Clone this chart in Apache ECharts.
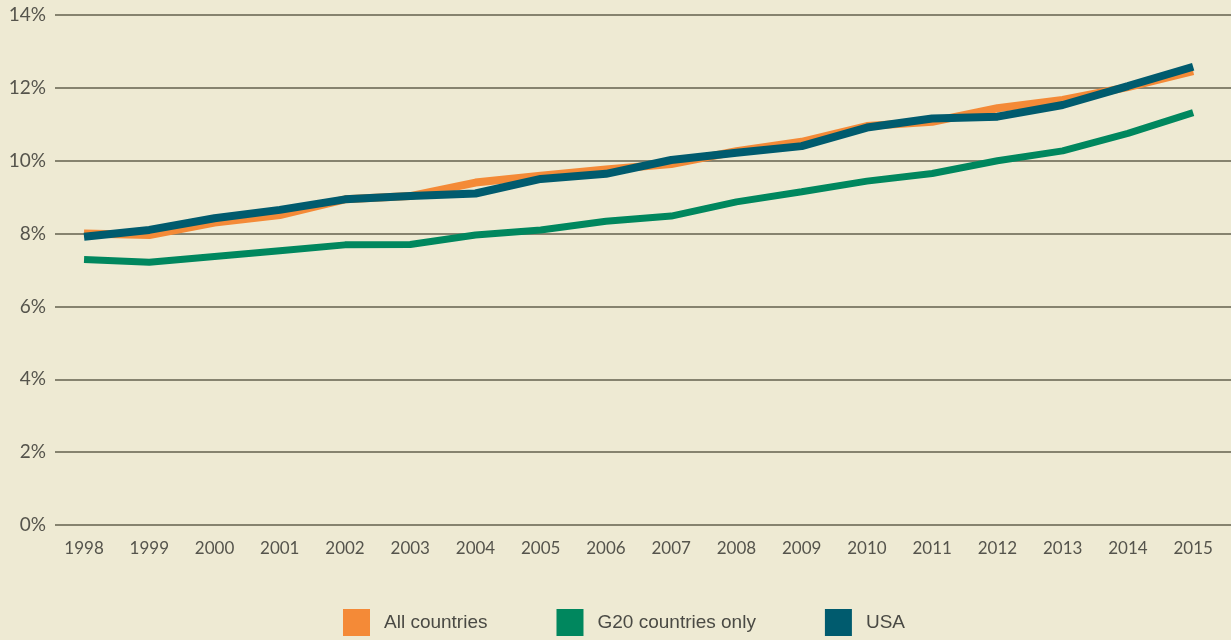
<!DOCTYPE html>
<html>
<head>
<meta charset="utf-8">
<script src="https://cdn.jsdelivr.net/npm/echarts@6/dist/echarts.min.js"></script>
<style>
  html, body { margin: 0; padding: 0; background: #eeead3; }
  #chart { width: 1231px; height: 640px; }
</style>
</head>
<body>
<div id="chart"></div>
<script>
const years = [1998, 1999, 2000, 2001, 2002, 2003, 2004, 2005, 2006, 2007, 2008, 2009, 2010, 2011, 2012, 2013, 2014, 2015]
const allCountries = [8.0, 7.96, 8.30, 8.51, 8.94, 9.03, 9.40, 9.59, 9.76, 9.91, 10.26, 10.52, 10.95, 11.07, 11.44, 11.67, 12.02, 12.46]
const g20Only = [7.29, 7.21, 7.37, 7.53, 7.69, 7.70, 7.96, 8.10, 8.34, 8.48, 8.87, 9.15, 9.44, 9.65, 10.00, 10.27, 10.75, 11.32]
const usa = [7.91, 8.10, 8.42, 8.65, 8.94, 9.03, 9.10, 9.50, 9.64, 10.02, 10.22, 10.40, 10.91, 11.16, 11.21, 11.53, 12.05, 12.58]
const yTicks = [0, 2, 4, 6, 8, 10, 12, 14]

const pairs = (arr) => arr.map((v, i) => [years[i], v])

const myChart = echarts.init(document.getElementById('chart'))

const option = {
  backgroundColor: '#eeead3',
  animation: false,
  grid: { left: 55, right: 0, top: 15, bottom: 115 },
  legend: {
    left: 343,
    bottom: 4,
    padding: 0,
    itemWidth: 27,
    itemHeight: 27,
    itemGap: 69,
    icon: 'rect',
    textStyle: {
      fontFamily: 'Liberation Sans',
      fontSize: 19,
      color: '#4a4a44',
      padding: [0, 0, 0, 9],
    },
    data: ['All countries', 'G20 countries only', 'USA'],
  },
  xAxis: {
    type: 'value',
    min: 1997.555,
    max: 2015.58,
    splitLine: { show: false },
    axisLine: { show: false },
    axisTick: { show: false },
    axisLabel: {
      customValues: years,
      formatter: (v) => String(v),
      color: '#55544c',
      fontFamily: 'Lato',
      fontSize: 17,
      margin: 15,
    },
  },
  yAxis: {
    type: 'value',
    min: yTicks[0],
    max: yTicks[yTicks.length - 1],
    interval: 2,
    axisLine: { show: false },
    axisTick: { show: false },
    axisLabel: {
      formatter: '{value}%',
      color: '#55544c',
      fontFamily: 'Lato',
      fontSize: 19,
      margin: 9,
    },
    splitLine: { lineStyle: { color: '#86836f', width: 2 } },
  },
  series: [
    {
      name: 'All countries',
      type: 'line',
      data: pairs(allCountries),
      showSymbol: false,
      color: '#f48a37',
      lineStyle: { width: 8, color: '#f48a37' },
      z: 2,
    },
    {
      name: 'G20 countries only',
      type: 'line',
      data: pairs(g20Only),
      showSymbol: false,
      color: '#00875e',
      lineStyle: { width: 7, color: '#00875e' },
      z: 3,
    },
    {
      name: 'USA',
      type: 'line',
      data: pairs(usa),
      showSymbol: false,
      color: '#005b6e',
      lineStyle: { width: 8, color: '#005b6e' },
      z: 4,
    },
  ],
}

myChart.setOption(option)
</script>
</body>
</html>
